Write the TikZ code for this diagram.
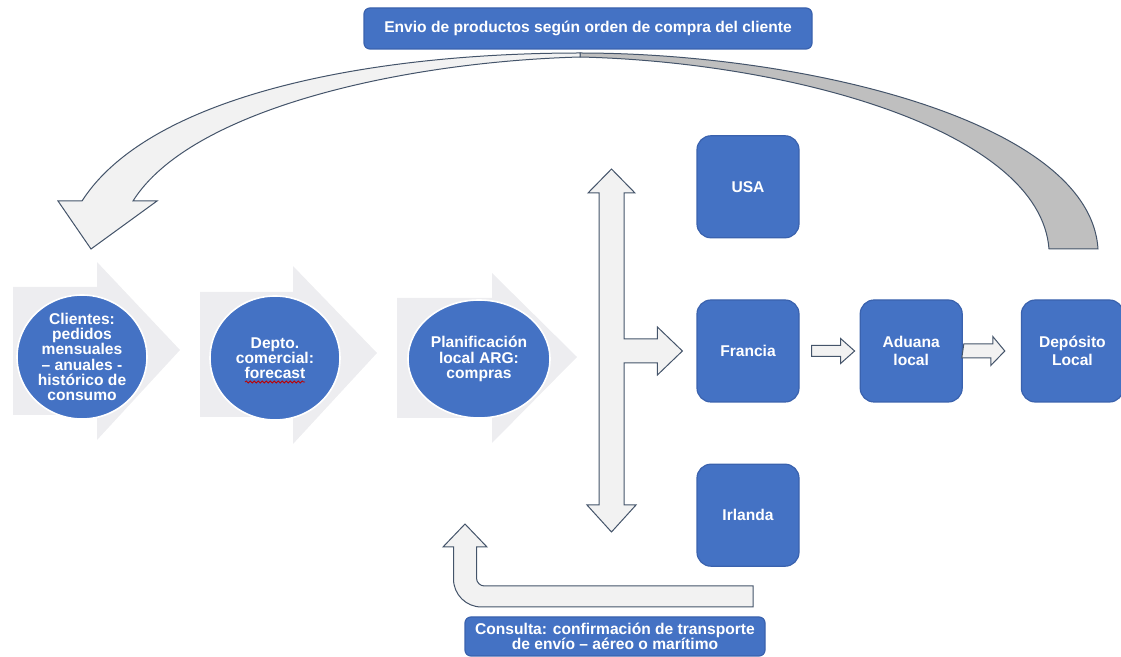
\documentclass[tikz,border=0pt]{standalone}
\usepackage{fontspec}
\setmainfont{Liberation Sans}
\usetikzlibrary{arrows.meta, calc, positioning, shapes.geometric, decorations.pathmorphing}
\definecolor{ofblue}{HTML}{4472C4}
\definecolor{ofedge}{HTML}{3A62AE}
\definecolor{ofline}{HTML}{44546A}
\definecolor{oflight}{HTML}{F2F2F2}
\definecolor{ofgray}{HTML}{BFBFBF}
\definecolor{ofchev}{HTML}{EDEDF0}

\tikzset{
  bluebox/.style={draw=ofedge, line width=0.6pt, fill=ofblue, rounded corners=7pt,
    minimum width=51pt, minimum height=51pt, inner sep=1pt, align=center,
    text=white, font=\bfseries\fontsize{7.8}{9}\selectfont},
  tagbox/.style={draw=ofedge, line width=0.6pt, fill=ofblue, rounded corners=3pt,
    inner sep=0pt, align=center, text=white, font=\bfseries\fontsize{7.8}{7.6}\selectfont},
  stepcircle/.style={ellipse, draw=white, line width=0.8pt, fill=ofblue,
    minimum width=65pt, minimum height=62pt, inner sep=0pt, align=center,
    text=white, font=\bfseries\fontsize{7.8}{7.6}\selectfont},
  blockarrow/.style={draw=ofline, line width=0.5pt, fill=oflight, line join=miter}
}

\begin{document}
\begin{tikzpicture}[x=0.5pt, y=-0.5pt, node distance=30.5pt]
\useasboundingbox (0,0) rectangle (1121,657);

% chevrons behind the three steps
\fill[ofchev] (13,287) -- (97,287) -- (97,262) -- (180,350) -- (97,440) -- (97,415) -- (13,415) -- cycle;
\fill[ofchev] (200,292) -- (293,292) -- (293,266) -- (377,353) -- (293,444) -- (293,417) -- (200,417) -- cycle;
\fill[ofchev] (397,298) -- (492,298) -- (492,273) -- (577,357) -- (492,443) -- (492,418) -- (397,418) -- cycle;

\node[stepcircle] at (82,357) (clientes) {Clientes:\\pedidos\\mensuales\\– anuales -\\histórico de\\consumo};
\node[stepcircle] at (275,358) (depto) {Depto.\\comercial:\\forecast};
\node[stepcircle, minimum width=71pt, minimum height=59pt] at (479,359) (planif) {Planificación\\local ARG:\\compras};
\draw[red!75!black, line width=0.4pt, decorate, decoration={snake, amplitude=0.5pt, segment length=2pt}]
  ([xshift=-15pt,yshift=-12pt]depto.center) -- ([xshift=15pt,yshift=-12pt]depto.center);

\node[bluebox] at (748,351) (francia) {Francia};
\node[bluebox, above=of francia] (usa) {USA};
\node[bluebox, below=of francia] (irlanda) {Irlanda};
\node[bluebox, right=30pt of francia] (aduana) {Aduana\\local};
\node[bluebox, right=29pt of aduana] (deposito) {Depósito\\Local};

\node[tagbox, minimum width=224pt, minimum height=20.5pt] at (588,28.5) (envio) {Envio de productos según orden de compra del cliente};
\node[tagbox, minimum width=150pt, minimum height=19.5pt] at (615,636.5) (consulta) {Consulta: confirmación de transporte\\de envío – aéreo o marítimo};

% curved arrow: back side, then face
\coordinate (ctail) at (1073.5,249);
\coordinate (chead) at (91,249);
\draw[blockarrow, fill=ofgray] ([xshift=12.25pt]ctail) .. controls (1090,120) and (800,53) .. (580,53)
  -- (580,57) .. controls (790,62) and (1040,130) .. ([xshift=-12.25pt]ctail) -- cycle;
\draw[blockarrow] (chead) -- ++(-16.5pt,24pt) -- ++(12pt,0) .. controls (150,95) and (370,53) .. (580,53)
  -- (580,57) .. controls (400,62) and (190,110) .. (133,201) -- (157,201) -- cycle;

% split arrow to the suppliers
\coordinate (up) at (611.5,169);
\coordinate (down) at (611.5,532);
\draw[blockarrow] (up) -- ++(11.75pt,-12pt) -- ++(-5.5pt,0) |- ([xshift=-19.5pt,yshift=6pt]francia.west)
  -- ++(0,6pt) -- ([xshift=-7pt]francia.west) -- ++(-12.5pt,-12pt) -- ++(0,6pt)
  -| ([xshift=6.25pt,yshift=13.5pt]down) -- ++(6pt,0) -- (down) -- ++(-12.25pt,13.5pt) -- ++(6pt,0)
  -- ([xshift=-6.25pt,yshift=-12pt]up) -- ++(-5.5pt,0) -- cycle;

\draw[blockarrow] ([xshift=6pt,yshift=2.75pt]francia.east) -- ++(14.5pt,0) -- ++(0,3.5pt) -- ([xshift=-2.5pt]aduana.west)
  -- ++(-7pt,-6.25pt) -- ++(0,3.5pt) -- ++(-14.5pt,0) -- cycle;
\draw[blockarrow] ([xshift=0.5pt,yshift=3.5pt]aduana.east) -- ++(14.5pt,0) -- ++(0,3.75pt) -- ([xshift=-8pt]deposito.west)
  -- ++(-7pt,-7.25pt) -- ++(0,3.75pt) -- ++(-14.5pt,0) -- cycle;

% bent arrow back to planning
\coordinate (btail) at (753,596.5);
\coordinate (bhead) at (465,524);
\draw[blockarrow] ([yshift=5.25pt]btail) [rounded corners=4pt] -- ++(-138.25pt,0) [sharp corners] -- ++(0,19.5pt)
  -- ++(5.25pt,0) -- (bhead) -- ++(-11pt,-11.5pt) -- ++(5.25pt,0) [rounded corners=14pt] -- ++(0,-30pt)
  [sharp corners] -- ([yshift=-5.25pt]btail) -- cycle;
\end{tikzpicture}
\end{document}
